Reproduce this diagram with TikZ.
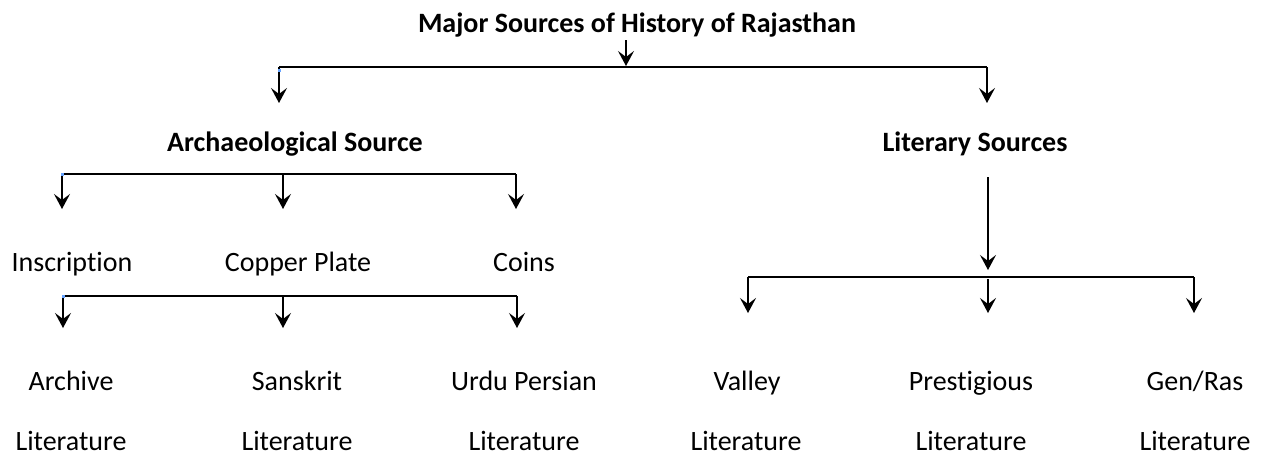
\documentclass[tikz,border=0pt]{standalone}
\usepackage{fontspec}
\setmainfont{Carlito}[Ligatures={NoCommon,NoRare}]
\usetikzlibrary{arrows.meta}
\begin{document}
\begin{tikzpicture}[x=1pt,y=-1pt,
  lbl/.style={inner sep=0pt,anchor=base,font=\fontsize{28}{32}\selectfont},
  hd/.style={lbl,font=\fontsize{28}{32}\selectfont\bfseries},
  conn/.style={line width=1.3pt,black},
  arr/.style={conn,-{Stealth[length=15pt,width=16pt,inset=6pt]}},
  handle/.style={fill=blue!60!cyan!60,draw=none}]
\useasboundingbox (0,0) rectangle (1268,455);
% texts
\node[hd] (title) at (637,32) {Major Sources of History of Rajasthan};
\node[hd] (arch) at (295,151) {Archaeological Source};
\node[hd] (lit) at (975,151) {Literary Sources};
\node[lbl] (insc) at (72,271) {Inscription};
\node[lbl] (copper) at (298,271) {Copper Plate};
\node[lbl] (coins) at (524,271) {Coins};
\node[lbl] (archive) at (71,390) {Archive};
\node[lbl] (archiveL) at (71,450) {Literature};
\node[lbl] (sans) at (297,390) {Sanskrit};
\node[lbl] (sansL) at (297,450) {Literature};
\node[lbl] (urdu) at (524,390) {Urdu Persian};
\node[lbl] (urduL) at (524,450) {Literature};
\node[lbl] (valley) at (747,390) {Valley};
\node[lbl] (valleyL) at (746,450) {Literature};
\node[lbl] (prest) at (971,390) {Prestigious};
\node[lbl] (prestL) at (971,450) {Literature};
\node[lbl] (gen) at (1195,390) {Gen/Ras};
\node[lbl] (genL) at (1195,450) {Literature};
% junction coordinates
\coordinate (t0) at (626,40);
\coordinate (t1) at (626,66);
\coordinate (hL) at (279,67);
\coordinate (hR) at (987,67);
\coordinate (hLd) at (279,103);
\coordinate (hRd) at (987,103);
\coordinate (a1) at (62,174);
\coordinate (a2) at (283,174);
\coordinate (a3) at (516,174);
\coordinate (a1d) at (62,209);
\coordinate (a2d) at (283,209);
\coordinate (a3d) at (516,209);
\coordinate (b1) at (63,296);
\coordinate (b2) at (283,296);
\coordinate (b3) at (517,296);
\coordinate (b1d) at (63,328);
\coordinate (b2d) at (283,328);
\coordinate (b3d) at (517,328);
\coordinate (l0) at (988,177);
\coordinate (l1) at (988,270);
\coordinate (c1) at (748,277);
\coordinate (c2) at (988,279);
\coordinate (c3) at (1194,277);
\coordinate (c1d) at (748,313);
\coordinate (c2d) at (988,313);
\coordinate (c3d) at (1194,313);
% connectors
\draw[arr] (t0) -- (t1);
\draw[conn] (hL) -- (hR);
\draw[arr] (hL) -- (hLd);
\draw[arr] (hR) -- (hRd);
\draw[conn] (a1) -- (a3);
\draw[arr] (a1) -- (a1d);
\draw[arr] (a2) -- (a2d);
\draw[arr] (a3) -- (a3d);
\draw[conn] (b1) -- (b3);
\draw[arr] (b1) -- (b1d);
\draw[arr] (b2) -- (b2d);
\draw[arr] (b3) -- (b3d);
\draw[arr] (l0) -- (l1);
\draw[conn] (c1) -- (c3);
\draw[arr] (c1) -- (c1d);
\draw[arr] (c2) -- (c2d);
\draw[arr] (c3) -- (c3d);
% selection handles
\fill[handle] (277.5,68.5) rectangle (280.5,71.5);
\fill[handle] (60.5,173) rectangle (63.5,176);
\fill[handle] (61.5,294.5) rectangle (64.5,297.5);
\end{tikzpicture}
\end{document}
